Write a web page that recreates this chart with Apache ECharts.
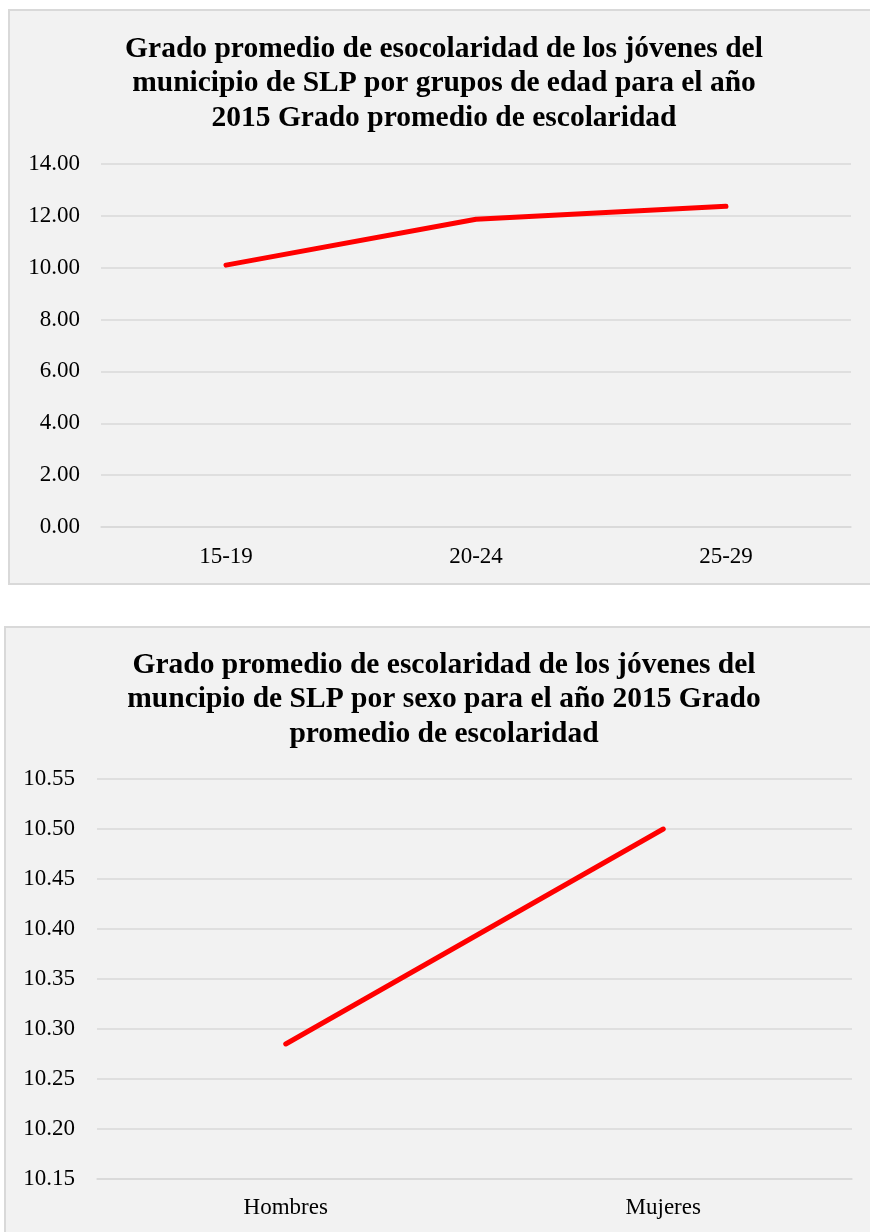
<!DOCTYPE html>
<html>
<head>
<meta charset="utf-8">
<script src="https://cdn.jsdelivr.net/npm/echarts@6/dist/echarts.min.js"></script>
<style>
html,body{margin:0;padding:0;background:#fff;overflow:hidden;width:870px;height:1232px;position:relative;}
#c1{position:absolute;left:8px;top:9px;width:872px;height:576px;}
#c2{position:absolute;left:4px;top:626px;width:880px;height:620px;}
</style>
</head>
<body>
<div id="c1"></div>
<div id="c2"></div>
<script>
const ageGroups = ['15-19', '20-24', '25-29'];
const ageValues = [10.10, 11.87, 12.37];
const ageTicks = [0, 14, 2];

const sexGroups = ['Hombres', 'Mujeres'];
const sexValues = [10.285, 10.50];
const sexTicks = [10.15, 10.55, 0.05];

const title1 = 'Grado promedio de esocolaridad de los jóvenes del\nmunicipio de SLP por grupos de edad para el año\n2015 Grado promedio de escolaridad';
const title2 = 'Grado promedio de escolaridad de los jóvenes del\nmuncipio de SLP por sexo para el año 2015 Grado\npromedio de escolaridad';

const FONT = '"Liberation Serif", "Times New Roman", serif';
const GRID = '#d9d9d9';

function build(el, w, h, opts) {
  const chart = echarts.init(el, null, {renderer: 'canvas'});
  chart.setOption({
    animation: false,
    backgroundColor: '#f2f2f2',
    graphic: [
      {type: 'rect', z: -10, silent: true, shape: {x: 1, y: 1, width: w + 20, height: h - 2},
       style: {fill: '#f2f2f2', stroke: GRID, lineWidth: 2}}
    ],
    title: {
      text: opts.title, left: 'center', top: opts.titleTop,
      padding: 0,
      textStyle: {fontFamily: FONT, fontWeight: 'bold', fontSize: 29.5, lineHeight: 34.5, color: '#000'}
    },
    grid: opts.grid,
    xAxis: {
      type: 'category', data: opts.cats, boundaryGap: true,
      axisLine: {show: true, lineStyle: {color: GRID, width: 1.5}},
      axisTick: {show: false},
      axisLabel: {color: '#000', fontFamily: FONT, fontSize: 23, margin: opts.xMargin}
    },
    yAxis: {
      type: 'value', min: opts.ticks[0], max: opts.ticks[1], interval: opts.ticks[2],
      axisLine: {show: false}, axisTick: {show: false},
      splitLine: {show: true, lineStyle: {color: GRID, width: 1.5}},
      axisLabel: {color: '#000', fontFamily: FONT, fontSize: 23, margin: opts.yMargin,
        formatter: v => Number(v).toFixed(2)}
    },
    series: [
      {type: 'line', data: opts.values, symbol: 'none',
       lineStyle: {color: '#ff0000', width: 5, cap: 'round', join: 'round'}}
    ]
  });
  return chart;
}

build(document.getElementById('c1'), 872, 576, {
  title: title1, titleTop: 23,
  grid: {left: 93, right: 29, top: 155, height: 363},
  cats: ageGroups, values: ageValues, ticks: ageTicks, xMargin: 18, yMargin: 21
});
build(document.getElementById('c2'), 880, 620, {
  title: title2, titleTop: 22,
  grid: {left: 93, right: 32, top: 153, height: 400},
  cats: sexGroups, values: sexValues, ticks: sexTicks, xMargin: 17, yMargin: 22
});
</script>
</body>
</html>
